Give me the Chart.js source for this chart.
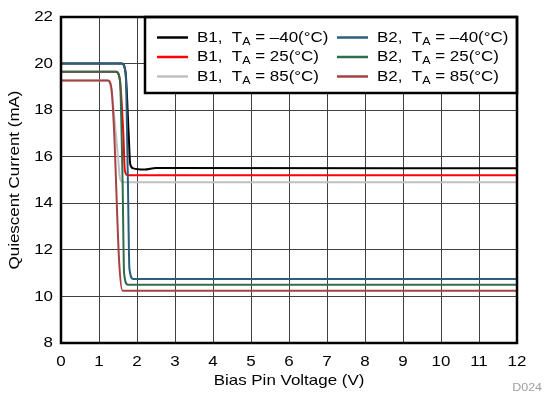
<!DOCTYPE html>
<html>
<head>
<meta charset="utf-8">
<script src="https://cdn.jsdelivr.net/npm/chart.js@4"></script>
<style>
  html, body { margin: 0; padding: 0; background: #fff; }
  #wrap { width: 544px; height: 396px; }
</style>
</head>
<body>
<div id="wrap"><canvas id="chart"></canvas></div>
<script>
// Bias pin voltage (V) vs quiescent current (mA)
const xTicks = [0, 1, 2, 3, 4, 5, 6, 7, 8, 9, 10, 11, 12];
const yTicks = [8, 10, 12, 14, 16, 18, 20, 22];
const xTitle = 'Bias Pin Voltage (V)';
const yTitle = 'Quiescent Current (mA)';

const b1ColdV = [0, 1.6, 1.7, 1.78, 1.82, 1.9, 2.2, 2.5, 12];
const b1ColdI = [20.0, 20.0, 19.6, 17.0, 15.7, 15.5, 15.45, 15.52, 15.5];
const b1RoomV = [0, 1.45, 1.55, 1.64, 1.68, 1.76, 12];
const b1RoomI = [19.65, 19.65, 19.3, 17.0, 15.4, 15.2, 15.2];
const b1HotV = [0, 1.22, 1.32, 1.5, 1.55, 1.63, 12];
const b1HotI = [19.27, 19.27, 18.9, 16.0, 15.1, 14.9, 14.9];

const b2ColdV = [0, 1.6, 1.7, 1.76, 1.8, 1.9, 12];
const b2ColdI = [20.0, 20.0, 19.6, 15.0, 11.2, 10.75, 10.75];
const b2RoomV = [0, 1.45, 1.55, 1.62, 1.66, 1.76, 12];
const b2RoomI = [19.65, 19.65, 19.3, 15.0, 11.0, 10.5, 10.5];
const b2HotV = [0, 1.24, 1.33, 1.4, 1.53, 1.62, 12];
const b2HotI = [19.27, 19.27, 18.9, 17.0, 11.5, 10.24, 10.24];

const seriesNames = ['B1', 'B2'];
const tempLabels = ['\u201340', '25', '85'];
const colors = [
  ['#000000', '#ff0000', '#c0c0c0'],
  ['#2b5e7c', '#2e6d4c', '#a54242']
];

const pts = (xs, ys) => xs.map((x, i) => ({ x: x, y: ys[i] }));
const curves = [
  [pts(b1ColdV, b1ColdI), pts(b1RoomV, b1RoomI), pts(b1HotV, b1HotI)],
  [pts(b2ColdV, b2ColdI), pts(b2RoomV, b2RoomI), pts(b2HotV, b2HotI)]
];

const datasets = [];
seriesNames.forEach((s, si) => {
  tempLabels.forEach((t, ti) => {
    datasets.push({
      label: s + ', TA = ' + t + '(\u00B0C)',
      series: si, temp: ti,
      data: curves[si][ti],
      borderColor: colors[si][ti],
      borderWidth: 2,
      pointRadius: 0,
      cubicInterpolationMode: 'monotone',
      order: si === 1 ? 0 : 1
    });
  });
});

const font = '"Liberation Sans", Arial, sans-serif';
const stretch = 1.13; // the reference type is set wide

// draw text widened along its reading direction
function wideText(ctx, text, x, y, align, size, rot) {
  ctx.save();
  ctx.translate(x, y);
  if (rot) ctx.rotate(rot);
  ctx.scale(stretch, 1);
  ctx.font = size + 'px ' + font;
  ctx.textAlign = align;
  ctx.textBaseline = 'middle';
  ctx.fillText(text, 0, 0);
  ctx.restore();
}

const frameAndLegend = {
  id: 'frameAndLegend',
  afterDraw(chart) {
    const { ctx, chartArea: a } = chart;
    const xs = chart.scales.x, ys = chart.scales.y;
    ctx.save();
    ctx.fillStyle = '#000';

    // tick labels and axis titles
    xTicks.forEach(v => wideText(ctx, String(v), xs.getPixelForValue(v), a.bottom + 19, 'center', 15));
    yTicks.forEach(v => wideText(ctx, String(v), a.left - 8, ys.getPixelForValue(v), 'right', 15));
    wideText(ctx, xTitle, (a.left + a.right) / 2, 381, 'center', 15);
    wideText(ctx, yTitle, 15, (a.top + a.bottom) / 2, 'center', 15, -Math.PI / 2);

    // legend box
    const bx = 145, by = a.top, bw = a.right - bx, bh = 76;
    ctx.fillStyle = '#fff';
    ctx.fillRect(bx, by, bw, bh);
    ctx.lineWidth = 2.5;
    ctx.strokeStyle = '#000';
    ctx.strokeRect(bx, by, bw, bh);

    const colX = [157, 337];
    const rowY = [by + 20.5, by + 40, by + 59.5];
    chart.data.datasets.forEach(ds => {
      const x = colX[ds.series], y = rowY[ds.temp];
      ctx.strokeStyle = ds.borderColor;
      ctx.lineWidth = 2.5;
      ctx.beginPath();
      ctx.moveTo(x, y);
      ctx.lineTo(x + 31, y);
      ctx.stroke();

      ctx.save();
      ctx.translate(x + 40, y);
      ctx.scale(stretch, 1);
      ctx.fillStyle = '#000';
      ctx.textBaseline = 'middle';
      ctx.textAlign = 'left';
      let tx = 0;
      ctx.font = '15px ' + font;
      const p1 = seriesNames[ds.series] + ',  T';
      ctx.fillText(p1, tx, 0);
      tx += ctx.measureText(p1).width;
      ctx.font = '11px ' + font;
      ctx.fillText('A', tx, 4);
      tx += ctx.measureText('A').width;
      ctx.font = '15px ' + font;
      ctx.fillText(' = ' + tempLabels[ds.temp] + '(\u00B0C)', tx, 0);
      ctx.restore();
    });

    // plot frame
    ctx.lineWidth = 2.5;
    ctx.strokeStyle = '#000';
    ctx.strokeRect(a.left, a.top, a.width, a.height);

    // figure id
    ctx.fillStyle = '#a0a0a0';
    wideText(ctx, 'D024', 542 - 0, 388, 'right', 11);
    ctx.restore();
  }
};

new Chart(document.getElementById('chart'), {
  type: 'line',
  data: { datasets: datasets },
  plugins: [frameAndLegend],
  options: {
    responsive: true,
    maintainAspectRatio: false,
    animation: false,
    layout: { padding: { top: 17, right: 27, left: 0, bottom: 0 } },
    plugins: { legend: { display: false }, tooltip: { enabled: false } },
    scales: {
      x: {
        type: 'linear',
        min: xTicks[0], max: xTicks[xTicks.length - 1],
        afterFit: s => { s.height = 53; },
        afterBuildTicks: s => { s.ticks = xTicks.map(v => ({ value: v })); },
        grid: { color: '#404040', lineWidth: 1, drawTicks: false },
        border: { display: false },
        ticks: { display: false },
        title: { display: false }
      },
      y: {
        type: 'linear',
        min: yTicks[0], max: yTicks[yTicks.length - 1],
        afterFit: s => { s.width = 61; },
        afterBuildTicks: s => { s.ticks = yTicks.map(v => ({ value: v })); },
        grid: { color: '#404040', lineWidth: 1, drawTicks: false },
        border: { display: false },
        ticks: { display: false },
        title: { display: false }
      }
    }
  }
});
</script>
</body>
</html>
